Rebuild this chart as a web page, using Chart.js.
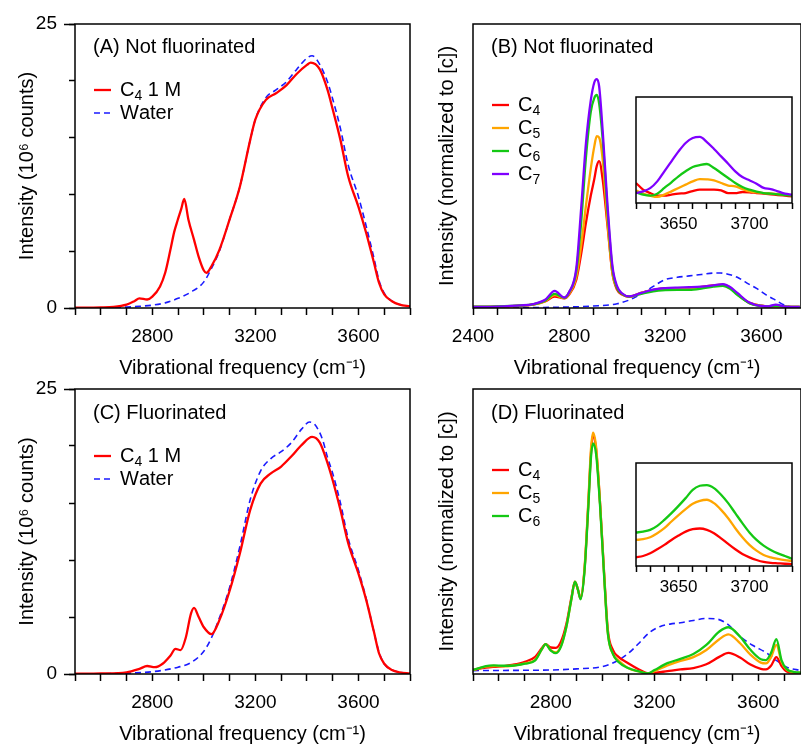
<!DOCTYPE html>
<html>
<head>
	<meta charset="utf-8">
	<title>Vibrational spectra</title>
	<style>
		html, body { margin: 0; padding: 0; background: #fff; overflow: hidden; }
		.wrap { position: relative; width: 801px; height: 746px; }
		.wrap canvas { position: absolute; }
	</style>
</head>
<body>
	<div class="wrap">
		<canvas id="panelA" width="420" height="380" style="left:0;top:0"></canvas>
		<canvas id="panelB" width="401" height="380" style="left:400px;top:0"></canvas>
		<canvas id="panelC" width="420" height="376" style="left:0;top:370px"></canvas>
		<canvas id="panelD" width="401" height="376" style="left:400px;top:370px"></canvas>
		<canvas id="insetB" width="191" height="150" style="left:610px;top:90px"></canvas>
		<canvas id="insetD" width="191" height="150" style="left:610px;top:453px"></canvas>
	</div>
	<script src="https://cdn.jsdelivr.net/npm/chart.js@4.4.1/dist/chart.umd.min.js"></script>
	<script>
		'use strict'

		// tick labels
		const xLabelsMain = [2800, 3200, 3600]
		const xLabelsB = [2400, 2800, 3200, 3600]
		const yLabelsCounts = [0, 25]
		const insetLabels = [3650, 3700]

		// (A) not fluorinated, counts in 10^6
		const freqA_c4 = [2500, 2600, 2650, 2700, 2730, 2750, 2780, 2800, 2830, 2850, 2870, 2885, 2898, 2912, 2924, 2940, 2962, 2980, 3000, 3010, 3030, 3060, 3100, 3140, 3180, 3200, 3240, 3280, 3320, 3360, 3400, 3415, 3450, 3480, 3500, 3530, 3560, 3600, 3630, 3660, 3680, 3700, 3730, 3760, 3800]
		const countsA_c4 = [0.02, 0.05, 0.1, 0.3, 0.6, 0.85, 0.75, 1.0, 1.9, 3.1, 5.1, 6.7, 7.7, 8.7, 9.6, 7.8, 6.0, 4.5, 3.3, 3.1, 3.7, 5.1, 7.8, 10.7, 14.8, 16.6, 18.3, 18.9, 19.6, 20.6, 21.4, 21.6, 21.0, 19.2, 17.5, 14.8, 11.6, 8.9, 6.6, 4.0, 2.2, 1.2, 0.6, 0.3, 0.15]
		const freqA_water = [2500, 2600, 2700, 2750, 2800, 2850, 2900, 2950, 3000, 3030, 3060, 3100, 3140, 3180, 3200, 3240, 3280, 3320, 3360, 3400, 3420, 3440, 3480, 3500, 3530, 3560, 3600, 3630, 3660, 3680, 3700, 3730, 3760, 3800]
		const countsA_water = [0, 0.02, 0.08, 0.15, 0.25, 0.45, 0.85, 1.4, 2.3, 3.5, 5.0, 7.8, 10.7, 14.8, 16.6, 18.5, 19.2, 19.9, 21.0, 22.0, 22.2, 21.8, 19.9, 18.4, 15.8, 12.6, 9.8, 7.2, 4.4, 2.4, 1.3, 0.6, 0.3, 0.15]

		// (B) not fluorinated, normalized
		const freqB = [2400, 2500, 2600, 2650, 2700, 2740, 2780, 2800, 2830, 2850, 2870, 2890, 2905, 2915, 2925, 2940, 2960, 2980, 3000, 3020, 3050, 3100, 3150, 3200, 3250, 3300, 3350, 3400, 3440, 3470, 3500, 3550, 3600, 3630, 3660, 3700, 3760]
		const normB_c4 = [0.4, 0.5, 0.8, 1.2, 2.3, 4.0, 3.4, 4.7, 10, 19, 30, 39.5, 45.5, 50, 51.7, 45, 28.7, 12.3, 6.4, 4.7, 3.9, 5.3, 6.4, 6.9, 7.0, 7.0, 7.4, 8.0, 8.2, 7.2, 4.9, 1.8, 0.8, 0.6, 0.6, 0.5, 0.35]
		const normB_c5 = [0.4, 0.5, 0.8, 1.2, 2.4, 4.5, 3.5, 5, 11, 22, 36, 49, 57, 60.5, 60, 52, 30, 12.5, 7, 5, 4, 5.3, 6.3, 6.8, 6.8, 6.8, 7.2, 7.8, 8.0, 7.0, 4.8, 1.8, 0.8, 0.6, 0.7, 0.5, 0.35]
		const normB_c6 = [0.45, 0.55, 0.9, 1.3, 2.6, 5.0, 3.6, 5.5, 13, 30, 53, 69, 74, 75, 72, 59, 34, 14, 7, 5, 4, 5, 5.9, 6.3, 6.4, 6.4, 6.8, 7.5, 7.8, 6.8, 4.6, 1.7, 0.7, 0.6, 0.8, 0.5, 0.35]
		const normB_c7 = [0.4, 0.5, 0.9, 1.4, 2.9, 6.0, 3.7, 5.6, 14, 35, 58, 73, 79.5, 80.6, 78, 62, 36, 15, 7.6, 5.2, 4.1, 5.3, 6.5, 7.0, 7.2, 7.3, 7.5, 8.0, 8.4, 7.4, 5.3, 1.9, 0.7, 0.6, 1.2, 0.5, 0.35]
		const freqB_water = [2400, 2600, 2800, 2900, 3000, 3050, 3080, 3120, 3150, 3200, 3250, 3300, 3350, 3400, 3430, 3470, 3500, 3550, 3580, 3620, 3650, 3700, 3760]
		const normB_water = [0, 0.1, 0.35, 0.7, 1.5, 2.8, 4.0, 6.0, 7.6, 10.0, 10.8, 11.3, 11.8, 12.3, 12.3, 11.7, 10.8, 8.3, 6.9, 4.6, 3.2, 0.9, 0.2]

		// (C) fluorinated, counts in 10^6
		const freqC_c4 = [2500, 2600, 2700, 2750, 2780, 2810, 2840, 2870, 2890, 2910, 2930, 2950, 2962, 2980, 3000, 3030, 3060, 3100, 3140, 3180, 3220, 3260, 3300, 3340, 3380, 3420, 3450, 3480, 3500, 3530, 3560, 3600, 3630, 3660, 3680, 3700, 3730, 3760, 3800]
		const countsC_c4 = [0.02, 0.05, 0.15, 0.45, 0.7, 0.6, 0.9, 1.6, 2.2, 2.1, 3.2, 5.3, 5.8, 5.0, 4.1, 3.5, 4.7, 7.3, 10.6, 14.4, 16.7, 17.6, 18.2, 19.1, 20.1, 20.8, 20.3, 18.5, 17.0, 14.4, 11.5, 8.8, 6.5, 3.7, 1.8, 0.9, 0.35, 0.15, 0.05]
		const freqC_water = [2500, 2600, 2700, 2800, 2900, 2950, 3000, 3030, 3060, 3100, 3140, 3180, 3220, 3260, 3300, 3340, 3380, 3410, 3430, 3460, 3480, 3500, 3530, 3560, 3600, 3630, 3660, 3680, 3700, 3730, 3760, 3800]
		const countsC_water = [0, 0.02, 0.08, 0.2, 0.6, 1.0, 2.0, 3.2, 4.9, 7.6, 11.2, 15.3, 17.8, 18.9, 19.5, 20.3, 21.5, 22.1, 21.9, 20.6, 19.0, 17.6, 15.0, 11.9, 9.1, 6.6, 3.7, 1.9, 0.9, 0.35, 0.15, 0.05]

		// (D) fluorinated, normalized
		const freqD = [2500, 2550, 2580, 2620, 2650, 2700, 2740, 2765, 2780, 2800, 2820, 2840, 2860, 2880, 2893, 2905, 2915, 2930, 2945, 2955, 2963, 2975, 2990, 3005, 3020, 3040, 3060, 3100, 3140, 3175, 3200, 3250, 3300, 3350, 3400, 3450, 3485, 3530, 3570, 3610, 3630, 3650, 3670, 3690, 3710, 3740, 3765]
		const normD_c4 = [1.4, 2.2, 2.5, 2.8, 3.2, 4.3, 6.0, 9.0, 10.5, 9.3, 9.2, 11.5, 17.5, 27, 32.4, 29.5, 26.5, 36.5, 60, 77.4, 83.9, 78.6, 60, 36.5, 15.4, 8.4, 6.1, 3.7, 1.6, 0.2, 0.4, 1.0, 1.6, 2.1, 3.4, 6.0, 7.4, 5.8, 3.3, 1.8, 1.6, 3.0, 5.9, 2.8, 0.9, 0.4, 0.2]
		const normD_c5 = [1.4, 2.6, 2.8, 2.7, 2.9, 3.7, 5.0, 8.6, 10.5, 8.4, 7.6, 10.0, 16.5, 26.5, 32.4, 29.5, 26.5, 37, 61, 79, 84.7, 79.5, 60, 36, 14.3, 7.0, 4.9, 2.0, 0.9, 0.2, 1.0, 3.0, 4.6, 5.9, 8.4, 12.2, 13.9, 10.8, 6.8, 4.0, 3.7, 6.0, 10.2, 4.2, 1.5, 0.6, 0.4]
		const normD_c6 = [1.4, 2.8, 3.0, 2.9, 2.9, 3.6, 4.8, 8.6, 10.5, 8.2, 7.3, 9.8, 16.5, 26.5, 32.4, 29.5, 26.2, 36, 59, 76, 80.9, 77, 59, 35.5, 14.3, 7.0, 4.3, 2.0, 0.9, 0.2, 1.4, 3.8, 5.3, 7.0, 10.2, 14.9, 16.4, 13.1, 8.5, 5.2, 4.9, 7.5, 12.2, 4.8, 1.7, 0.7, 0.5]
		const freqD_water = [2500, 2700, 2800, 2900, 3000, 3050, 3100, 3140, 3180, 3220, 3260, 3300, 3350, 3400, 3440, 3480, 3530, 3580, 3630, 3670, 3710, 3765]
		const normD_water = [1.2, 1.3, 1.4, 1.8, 2.6, 4.3, 7.3, 10.8, 14.5, 16.6, 17.5, 18.0, 18.8, 19.5, 19.3, 17.6, 13.2, 10.0, 7.5, 4.8, 2.4, 1.2]

		// insets, free OH region
		const freqInset = [3620, 3625, 3630, 3635, 3640, 3645, 3650, 3655, 3660, 3665, 3670, 3675, 3680, 3685, 3690, 3695, 3700, 3705, 3710, 3715, 3720, 3725, 3730]
		const insetB_c4 = [18.9, 12.6, 9.4, 6.9, 6.9, 7.9, 8.8, 9.4, 11.3, 12.6, 12.6, 12.6, 11.9, 9.4, 9.4, 10.4, 10.1, 9.4, 8.8, 8.2, 7.5, 6.9, 6.3]
		const insetB_c5 = [11.9, 8.8, 6.9, 5.7, 7.9, 11.0, 14.2, 17.3, 20.4, 22.6, 22.3, 21.4, 18.9, 16.5, 15.7, 13.2, 11.0, 10.0, 9.4, 9.0, 8.5, 8.0, 7.5]
		const insetB_c6 = [10.1, 7.9, 6.9, 8.8, 14.2, 19.5, 25.2, 29.9, 34.0, 35.8, 36.8, 33.0, 28.3, 23.6, 18.9, 15.1, 12.6, 10.7, 9.4, 8.8, 8.2, 7.5, 6.9]
		const insetB_c7 = [9.4, 11.0, 14.0, 20.4, 29.9, 39.3, 48.7, 56.6, 61.3, 62.3, 57.5, 51.0, 44.0, 37.1, 29.9, 24.5, 21.4, 18.2, 14.2, 13.2, 11.0, 8.8, 7.9]
		const insetD_c4 = [8.4, 9.7, 12.3, 16.2, 20.5, 25.3, 29.5, 33.4, 35.7, 36.4, 35.1, 31.8, 26.9, 21.4, 16.2, 11.7, 8.4, 5.8, 3.9, 3.0, 2.6, 2.2, 1.9]
		const insetD_c5 = [25.3, 26.0, 27.9, 31.8, 36.7, 43.2, 49.4, 55.2, 60.4, 63.3, 64.3, 61.0, 54.5, 46.4, 36.7, 27.9, 20.5, 14.9, 10.7, 8.4, 6.8, 5.6, 4.9]
		const insetD_c6 = [32.5, 33.4, 35.1, 39.0, 44.8, 51.3, 58.4, 65.9, 74.0, 77.9, 78.6, 75.6, 69.2, 61.0, 51.3, 41.6, 32.5, 25.3, 19.8, 15.6, 12.3, 9.7, 7.1]

		const RED = '#ff0000'
		const ORANGE = '#ffa500'
		const GREEN = '#14c814'
		const PURPLE = '#7f00ff'
		const BLUE = '#1a1aff'
		const FONT = '"Liberation Sans", Arial, Helvetica, sans-serif'

		Chart.defaults.font.family = FONT
		Chart.defaults.color = '#000'

		// draws a label, turning unicode subscript digits into small lowered digits
		function drawRich(ctx, text, x, y, size) {
			for (const ch of text) {
				const code = ch.codePointAt(0)
				const sub = code >= 0x2080 && code <= 0x2089
				const s = sub ? String(code - 0x2080) : ch
				ctx.font = (sub ? Math.round(size * 0.7) : size) + 'px ' + FONT
				ctx.fillText(s, x, sub ? y + size * 0.3 : y)
				x += ctx.measureText(s).width
			}
		}

		// box around the plot, panel label and in-plot legend
		const decor = {
			id: 'decor',
			afterDatasetsDraw(chart, args, opts) {
				const { ctx, chartArea: a } = chart
				ctx.save()
				ctx.strokeStyle = '#000'
				ctx.lineWidth = 1.5
				ctx.strokeRect(a.left, a.top, a.right - a.left, a.bottom - a.top)
				ctx.fillStyle = '#000'
				ctx.textBaseline = 'middle'
				if (opts.label) {
					ctx.font = '20px ' + FONT
					ctx.fillText(opts.label, a.left + 18, a.top + opts.labelDy)
				}
				if (opts.legendDy) {
					let row = 0
					chart.data.datasets.forEach(ds => {
						if (ds.inLegend === false) return
						const y = a.top + opts.legendDy + row * 23
						ctx.beginPath()
						ctx.setLineDash(ds.borderDash || [])
						ctx.lineWidth = ds.borderWidth
						ctx.strokeStyle = ds.borderColor
						ctx.moveTo(a.left + 19, y)
						ctx.lineTo(a.left + 36, y)
						ctx.stroke()
						drawRich(ctx, ds.label, a.left + 45, y, 20)
						row++
					})
				}
				ctx.restore()
			}
		}
		Chart.register(decor)

		function series(label, xs, ys, color, extra) {
			return Object.assign({
				label,
				data: xs.map((x, i) => ({ x, y: ys[i] })),
				borderColor: color,
				borderWidth: 2.3,
				pointRadius: 0,
				cubicInterpolationMode: 'monotone',
				fill: false
			}, extra || {})
		}

		function water(xs, ys, inLegend) {
			return series('Water', xs, ys, BLUE, { borderWidth: 1.6, borderDash: [6, 4], order: 9, inLegend })
		}

		function xAxis(min, max, labels) {
			return {
				type: 'linear', min, max,
				grid: { drawOnChartArea: false, tickLength: 7, tickWidth: 1.5, tickColor: '#000' },
				border: { display: false },
				ticks: {
					stepSize: 100, autoSkip: false, maxRotation: 0, minRotation: 0, includeBounds: false,
					padding: 10, font: { size: 19 },
					callback: v => labels.includes(v) ? String(v) : ''
				},
				title: { display: true, text: 'Vibrational frequency (cm⁻¹)', font: { size: 20 }, padding: { top: 0, bottom: 0 } },
				afterFit: s => { s.height = 72 }
			}
		}

		function countsAxes() {
			return {
				yl: {
					type: 'linear', axis: 'y', position: 'left', weight: 1, min: 0, max: 25,
					grid: { drawOnChartArea: false, tickLength: 11, tickWidth: 1.5, tickColor: '#000' },
					border: { display: false },
					ticks: { stepSize: 25, padding: 7, font: { size: 19 }, callback: v => yLabelsCounts.includes(v) ? String(v) : '' },
					title: { display: true, text: 'Intensity (10⁶ counts)', font: { size: 20 }, padding: { top: 15, bottom: 0 } },
					afterFit: s => { s.width = 75 }
				},
				y: {
					type: 'linear', position: 'left', weight: 0, min: 0, max: 25,
					grid: { drawOnChartArea: false, tickLength: 6, tickWidth: 1.5, tickColor: '#000' },
					border: { display: false },
					ticks: { stepSize: 5, display: false },
					afterFit: s => { s.width = 0 }
				}
			}
		}

		function normAxis() {
			return {
				y: {
					type: 'linear', position: 'left', min: 0, max: 100,
					grid: { display: false },
					border: { display: false },
					ticks: { display: false },
					title: { display: true, text: 'Intensity (normalized to [c])', font: { size: 20 }, padding: { top: 35, bottom: 0 } },
					afterFit: s => { s.width = 73 }
				}
			}
		}

		function panel(id, datasets, scales, padding, decorOpts) {
			return new Chart(document.getElementById(id), {
				type: 'line',
				data: { datasets },
				options: {
					responsive: false,
					animation: false,
					devicePixelRatio: 1,
					layout: { padding },
					plugins: { legend: { display: false }, tooltip: { enabled: false }, decor: decorOpts },
					scales
				}
			})
		}

		function inset(id, datasets, top) {
			return new Chart(document.getElementById(id), {
				type: 'line',
				data: { datasets },
				options: {
					responsive: false,
					animation: false,
					devicePixelRatio: 1,
					layout: { padding: { left: 26, top, right: 9, bottom: 0 } },
					plugins: { legend: { display: false }, tooltip: { enabled: false }, decor: {} },
					scales: {
						x: {
							type: 'linear', min: 3620, max: 3730,
							grid: { drawOnChartArea: false, tickLength: 6, tickWidth: 1.5, tickColor: '#000' },
							border: { display: false },
							ticks: {
								stepSize: 10, autoSkip: false, maxRotation: 0, minRotation: 0, includeBounds: false,
								padding: 5, font: { size: 17 },
								callback: v => insetLabels.includes(v) ? String(v) : ''
							},
							afterFit: s => { s.height = 37 }
						},
						y: { display: false, min: 0, max: 100 }
					}
				}
			})
		}

		panel('panelA',
			[series('C₄ 1 M', freqA_c4, countsA_c4, RED), water(freqA_water, countsA_water, true)],
			Object.assign({ x: xAxis(2500, 3800, xLabelsMain) }, countsAxes()),
			{ top: 24, right: 8, left: 0, bottom: 0 },
			{ label: '(A) Not fluorinated', labelDy: 23, legendDy: 66 })

		panel('panelB',
			[
				series('C₄', freqB, normB_c4, RED, { order: 4 }),
				series('C₅', freqB, normB_c5, ORANGE, { order: 3 }),
				series('C₆', freqB, normB_c6, GREEN, { order: 2 }),
				series('C₇', freqB, normB_c7, PURPLE, { order: 1 }),
				water(freqB_water, normB_water, false)
			],
			Object.assign({ x: xAxis(2400, 3765, xLabelsB) }, normAxis()),
			{ top: 24, right: 0, left: 0, bottom: 0 },
			{ label: '(B) Not fluorinated', labelDy: 23, legendDy: 81 })

		panel('panelC',
			[series('C₄ 1 M', freqC_c4, countsC_c4, RED), water(freqC_water, countsC_water, true)],
			Object.assign({ x: xAxis(2500, 3800, xLabelsMain) }, countsAxes()),
			{ top: 19, right: 8, left: 0, bottom: 0 },
			{ label: '(C) Fluorinated', labelDy: 24, legendDy: 67 })

		panel('panelD',
			[
				series('C₄', freqD, normD_c4, RED, { order: 3 }),
				series('C₅', freqD, normD_c5, ORANGE, { order: 2 }),
				series('C₆', freqD, normD_c6, GREEN, { order: 1 }),
				water(freqD_water, normD_water, false)
			],
			Object.assign({ x: xAxis(2500, 3765, xLabelsMain) }, normAxis()),
			{ top: 19, right: 0, left: 0, bottom: 0 },
			{ label: '(D) Fluorinated', labelDy: 24, legendDy: 81 })

		inset('insetB', [
			series('C₄', freqInset, insetB_c4, RED, { order: 4 }),
			series('C₅', freqInset, insetB_c5, ORANGE, { order: 3 }),
			series('C₆', freqInset, insetB_c6, GREEN, { order: 2 }),
			series('C₇', freqInset, insetB_c7, PURPLE, { order: 1 })
		], 7)

		inset('insetD', [
			series('C₄', freqInset, insetD_c4, RED, { order: 3 }),
			series('C₅', freqInset, insetD_c5, ORANGE, { order: 2 }),
			series('C₆', freqInset, insetD_c6, GREEN, { order: 1 })
		], 10)
	</script>
</body>
</html>
